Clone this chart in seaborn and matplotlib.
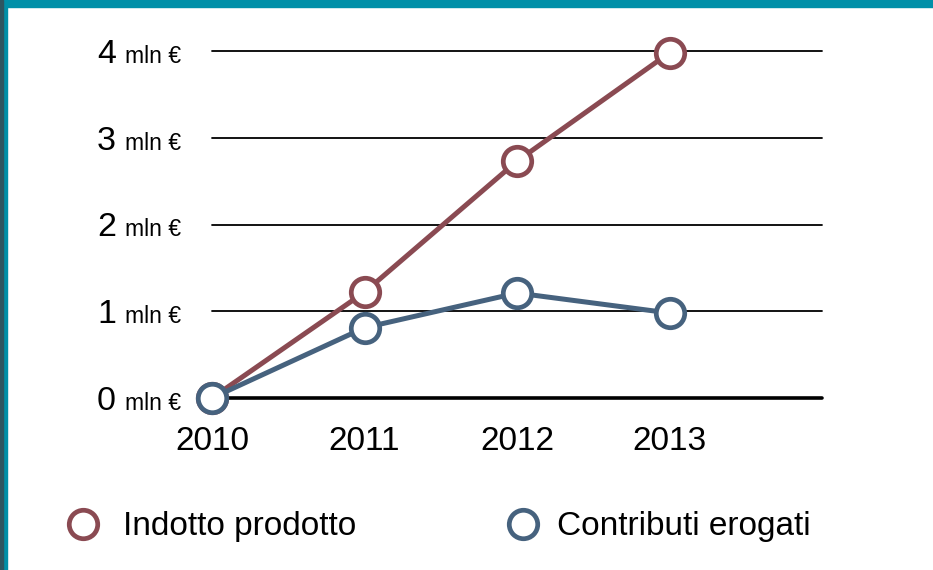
import matplotlib
matplotlib.use("Agg")
import matplotlib.pyplot as plt
import matplotlib.transforms as mtransforms
from matplotlib.lines import Line2D
from matplotlib.patches import Rectangle
import seaborn as sns
import pandas as pd

years = [2010, 2011, 2012, 2013]
indotto = [0.0, 1.22, 2.73, 3.98]
contributi = [0.0, 0.81, 1.21, 0.98]
series_names = ["Indotto prodotto", "Contributi erogati"]
colors = ["#8A4A52", "#46627E"]
y_ticks = [0, 1, 2, 3, 4]
y_unit = "mln €"

df = pd.DataFrame({
    "anno": years * 2,
    "valore": indotto + contributi,
    "serie": [series_names[0]] * 4 + [series_names[1]] * 4,
})

sns.set_style("white")
plt.rcParams["font.family"] = ["Liberation Sans", "DejaVu Sans"]
plt.rcParams["text.color"] = "black"
plt.rcParams["xtick.color"] = "black"
plt.rcParams["xtick.labelcolor"] = "black"

fig = plt.figure(figsize=(9.33, 5.70), dpi=100)
ax = fig.add_axes([212 / 933, 172 / 570, 610 / 933, 347 / 570])

# grid lines
for t in y_ticks[1:]:
    ax.axhline(t, color="black", lw=1.3, zorder=1)
ax.axhline(0, color="black", lw=2.6, zorder=1)

MS = 20.5
MEW = 3.4
sns.lineplot(data=df, x="anno", y="valore", hue="serie", hue_order=series_names,
             palette=colors, ax=ax, legend=False, lw=3.6, marker="o",
             markersize=MS, markerfacecolor="white", markeredgewidth=MEW,
             zorder=3, clip_on=False)
for ln in ax.lines:
    ln.set_clip_on(False)
    c = ln.get_color()
    if ln.get_marker() == "o":
        ln.set_markeredgecolor(c)
        ln.set_markerfacecolor("white")

ax.set_xlim(2010, 2014)
ax.set_ylim(0, 4)
for s in ax.spines.values():
    s.set_visible(False)
ax.set_xlabel("")
ax.set_ylabel("")
ax.set_xticks(years)
ax.set_xticklabels([str(y) for y in years], fontsize=24, color="black")
ax.tick_params(axis="x", length=0, pad=20)
ax.set_yticks([])

ytrans = ax.get_yaxis_transform()
t_num = mtransforms.offset_copy(ytrans, fig=fig, x=-96, y=-12, units="dots")
t_unit = mtransforms.offset_copy(ytrans, fig=fig, x=-87, y=-12, units="dots")
for t in y_ticks:
    ax.text(0, t, str(t), transform=t_num, ha="right", va="baseline", fontsize=24.5,
            color="black")
    ax.text(0, t, y_unit, transform=t_unit, ha="left", va="baseline", fontsize=16.5,
            color="black")

# legend: one entry per series, placed like the reference
leg_x = [66 / 933, 506 / 933]
leg_pad = [0.70, 0.52]
for name, c, lx, pad in zip(series_names, colors, leg_x, leg_pad):
    h = Line2D([], [], ls="none", marker="o", markersize=MS, markerfacecolor="white",
               markeredgecolor=c, markeredgewidth=MEW)
    leg = fig.legend([h], [name], loc="center left",
                     bbox_to_anchor=(lx, 1 - 527 / 570), frameon=False,
                     fontsize=24, handlelength=1.0, handletextpad=pad,
                     borderpad=0, borderaxespad=0)
    for txt in leg.get_texts():
        txt.set_color("black")

# frame strips
fig.patches.append(Rectangle((0, 1 - 7 / 570), 1, 7 / 570, transform=fig.transFigure,
                             color="#0090A8", zorder=0))
fig.patches.append(Rectangle((0, 0), 7 / 933, 1, transform=fig.transFigure,
                             color="#0090A8", zorder=0))
fig.patches.append(Rectangle((0, 0), 3 / 933, 1, transform=fig.transFigure,
                             color="#2E5660", zorder=0))

fig.savefig("out.png", dpi=100)
